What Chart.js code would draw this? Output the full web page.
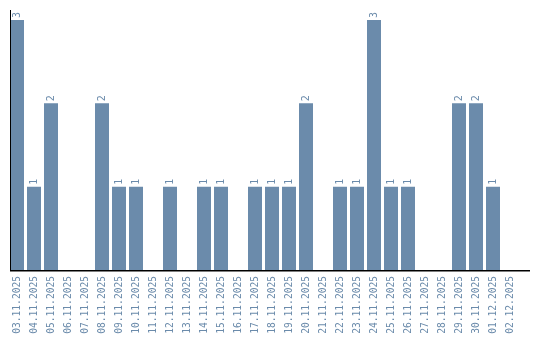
<!DOCTYPE html>
<html>
<head>
<meta charset="utf-8">
<script src="https://cdn.jsdelivr.net/npm/chart.js@4/dist/chart.umd.min.js"></script>
<style>
  html, body { margin: 0; padding: 0; background: #fff; }
  #wrap { width: 540px; height: 340px; }
</style>
</head>
<body>
<div id="wrap"><canvas id="myChart"></canvas></div>
<script>
const days = ['03.11.2025','04.11.2025','05.11.2025','06.11.2025','07.11.2025','08.11.2025',
  '09.11.2025','10.11.2025','11.11.2025','12.11.2025','13.11.2025','14.11.2025','15.11.2025',
  '16.11.2025','17.11.2025','18.11.2025','19.11.2025','20.11.2025','21.11.2025','22.11.2025',
  '23.11.2025','24.11.2025','25.11.2025','26.11.2025','27.11.2025','28.11.2025','29.11.2025',
  '30.11.2025','01.12.2025','02.12.2025'];
const counts = [3,1,2,0,0,2,1,1,0,1,0,1,1,0,1,1,1,2,0,1,1,3,1,1,0,0,2,2,1,0];

const blue = '#6b8bab';

// value labels above the bars, turned on their side
const barLabels = {
  id: 'barLabels',
  afterDatasetsDraw(chart) {
    const c = chart.ctx;
    const meta = chart.getDatasetMeta(0);
    c.save();
    c.fillStyle = blue;
    c.font = '10px "DejaVu Sans Mono"';
    c.textAlign = 'left';
    c.textBaseline = 'middle';
    meta.data.forEach((bar, i) => {
      if (!counts[i]) return;
      c.save();
      c.translate(bar.x, bar.y - 2);
      c.rotate(-Math.PI / 2);
      c.fillText(String(counts[i]), 0, 0);
      c.restore();
    });
    c.restore();
  }
};

// axis lines drawn by hand
const axisLines = {
  id: 'axisLines',
  afterDraw(chart) {
    const c = chart.ctx;
    const a = chart.chartArea;
    c.save();
    c.strokeStyle = '#000';
    c.lineWidth = 1;
    c.beginPath();
    c.moveTo(10.5, a.top);
    c.lineTo(10.5, a.bottom);
    c.stroke();
    c.lineWidth = 1.5;
    c.beginPath();
    c.moveTo(10, a.bottom + 0.75);
    c.lineTo(530, a.bottom + 0.75);
    c.stroke();
    c.restore();
  }
};

const ctx = document.getElementById('myChart');
new Chart(ctx, {
  type: 'bar',
  data: {
    labels: days,
    datasets: [{
      data: counts,
      backgroundColor: blue,
      borderWidth: 0,
      categoryPercentage: 1,
      barPercentage: 14 / 17
    }]
  },
  options: {
    responsive: true,
    maintainAspectRatio: false,
    animation: false,
    layout: { padding: { top: 10, right: 21.5, left: 0, bottom: 0 } },
    plugins: { legend: { display: false }, tooltip: { enabled: false } },
    scales: {
      x: {
        grid: { display: false, drawTicks: false, tickLength: 0 },
        border: { display: false },
        ticks: {
          color: blue,
          font: { family: '"DejaVu Sans Mono"', size: 9.6 },
          minRotation: 90,
          maxRotation: 90,
          autoSkip: false,
          padding: 6
        },
        afterFit(scale) { scale.height = 70; }
      },
      y: {
        min: 0,
        max: 3.12,
        grid: { display: false },
        border: { display: false },
        ticks: { display: false },
        afterFit(scale) { scale.width = 8.5; }
      }
    }
  },
  plugins: [barLabels, axisLines]
});
</script>
</body>
</html>
